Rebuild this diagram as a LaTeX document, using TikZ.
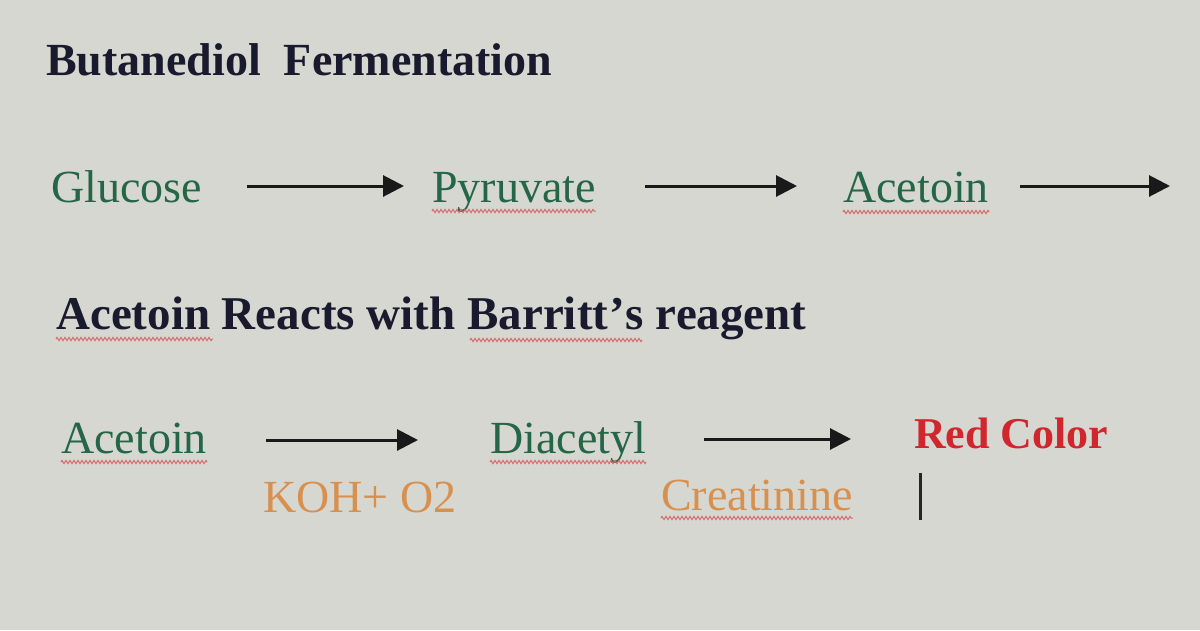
\documentclass[tikz,border=0pt]{standalone}
\usepackage{fontspec}
\setmainfont{Liberation Serif}
\usetikzlibrary{arrows.meta,decorations.pathmorphing}
\definecolor{bg}{HTML}{D6D7D0}
\definecolor{navy}{HTML}{1A1A2E}
\definecolor{tgreen}{HTML}{256648}
\definecolor{torange}{HTML}{D8904F}
\definecolor{tred}{HTML}{D0262E}
\definecolor{squigc}{HTML}{D86A6A}
\tikzset{
  txt/.style={inner sep=0pt, anchor=base west, font=\fontsize{46}{50}\selectfont},
  head/.style={txt, text=navy, font=\fontsize{46}{50}\selectfont\bfseries},
  chem/.style={txt, text=tgreen},
  reag/.style={txt, text=torange},
  result/.style={txt, text=tred, font=\fontsize{44}{50}\selectfont\bfseries},
  rxn/.style={line width=3pt, draw=black!90, -{Triangle[length=21pt,width=21pt]}},
  squig/.style={draw=squigc, line width=1pt, decorate, decoration={zigzag, amplitude=1.6pt, segment length=4pt}},
}
\begin{document}
\begin{tikzpicture}[x=1pt,y=-1pt]
\fill[bg] (0,0) rectangle (1200,630);
\useasboundingbox (0,0) rectangle (1200,630);

% headings
\node[head] (t1) at (46,75) {Butanediol\ \ Fermentation};
\node[head, font=\fontsize{47}{50}\selectfont\bfseries] (t2) at (56,329) {Acetoin Reacts with Barritt\kern1pt’\kern1pt s reagent};

% row 1
\node[chem] (glu) at (51,202) {Glucose};
\node[chem] (pyr) at (432,202) {Pyruvate};
\node[chem] (ace1) at (843,202) {Acetoin};
\coordinate (a1s) at (247,186); \coordinate (a1e) at (404,186);
\coordinate (a2s) at (645,186); \coordinate (a2e) at (797,186);
\coordinate (a3s) at (1020,186); \coordinate (a3e) at (1170,186);
\draw[rxn] (a1s) -- (a1e);
\draw[rxn] (a2s) -- (a2e);
\draw[rxn] (a3s) -- (a3e);

% row 2
\node[chem] (ace2) at (61,453) {Acetoin};
\node[chem] (dia) at (490,453) {Diacetyl};
\node[result] (red) at (914,448) {Red Color};
\node[reag] (koh) at (263,512) {KOH+ O2};
\node[reag] (cre) at (661,510) {Creatinine};
\coordinate (a4s) at (266,440); \coordinate (a4e) at (418,440);
\coordinate (a5s) at (704,439); \coordinate (a5e) at (851,439);
\draw[rxn] (a4s) -- (a4e);
\draw[rxn] (a5s) -- (a5e);

% spell-check squiggles
\draw[squig] ([yshift=-9pt]pyr.base west) -- ([yshift=-9pt]pyr.base east);
\draw[squig] ([yshift=-10pt]ace1.base west) -- ([yshift=-10pt]ace1.base east);
\draw[squig] (56,339) -- (213,339);
\draw[squig] (470,340) -- (642,340);
\draw[squig] ([yshift=-9pt]ace2.base west) -- ([yshift=-9pt]ace2.base east);
\draw[squig] ([yshift=-9pt]dia.base west) -- ([yshift=-9pt]dia.base east);
\draw[squig] ([yshift=-8pt]cre.base west) -- ([yshift=-8pt]cre.base east);

% text cursor
\draw[line width=3pt, black!85] (920,473) -- (920,520);
\end{tikzpicture}
\end{document}
